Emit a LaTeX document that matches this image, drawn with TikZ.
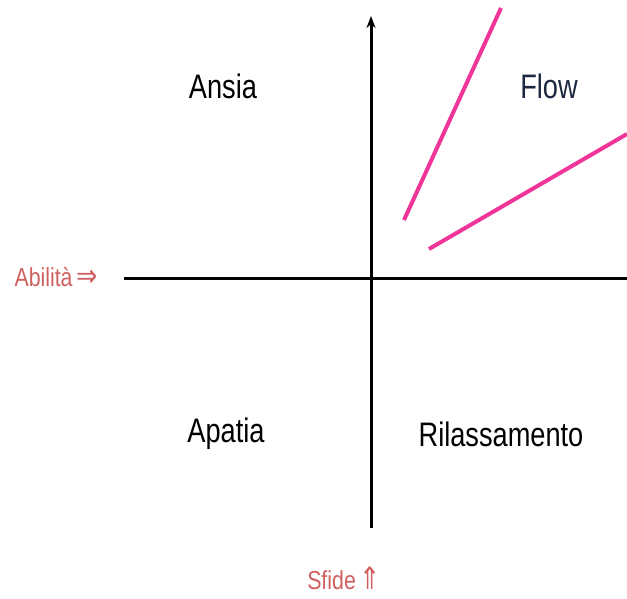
\documentclass[tikz,border=0pt]{standalone}
\usepackage{fontspec}
\setmainfont{Liberation Sans}
\newfontfamily\arrowfont{DejaVu Sans}
\usetikzlibrary{arrows.meta}
\definecolor{pinkline}{HTML}{F0359A}
\definecolor{labelred}{HTML}{D06060}
\definecolor{flownavy}{HTML}{1C2840}
\tikzset{
  quad/.style={inner sep=0pt, font=\fontsize{34}{40}\selectfont, xscale=0.8},
  axislabel/.style={inner sep=0pt, text=labelred, font=\fontsize{26}{30}\selectfont, xscale=0.82},
  axis/.style={line width=3pt, black},
  flowline/.style={line width=4pt, pinkline}
}
\begin{document}
\begin{tikzpicture}[x=1pt,y=-1pt]
\useasboundingbox (0,0) rectangle (627,598);
\coordinate (hl) at (124,278);
\coordinate (hr) at (627,278);
\coordinate (vb) at (371,528);
\coordinate (vt) at (371,16);
\draw[axis] (hl) -- (hr);
\draw[axis, -{Stealth[length=12pt,width=9pt]}] (vb) -- (vt);
\coordinate (a1) at (404,220);
\coordinate (a2) at (501,8);
\coordinate (b1) at (429,249);
\coordinate (b2) at (627,134);
\draw[flowline] (a1) -- (a2);
\draw[flowline] (b1) -- (b2);
\node[quad] (ansia) at (223,86) {Ansia};
\node[quad, text=flownavy] (flow) at (549,86) {Flow};
\node[quad] (apatia) at (226,434) {Apatia};
\node[quad] (rilass) at (501,434) {Rilassamento};
\node[axislabel] (abil) at (56,277) {Abilità\,{\arrowfont\fontsize{31}{31}\selectfont ⇒}};
\node[axislabel] (sfide) at (344,578) {Sfide\,{\arrowfont\fontsize{31}{31}\selectfont ⇑}};
\end{tikzpicture}
\end{document}
